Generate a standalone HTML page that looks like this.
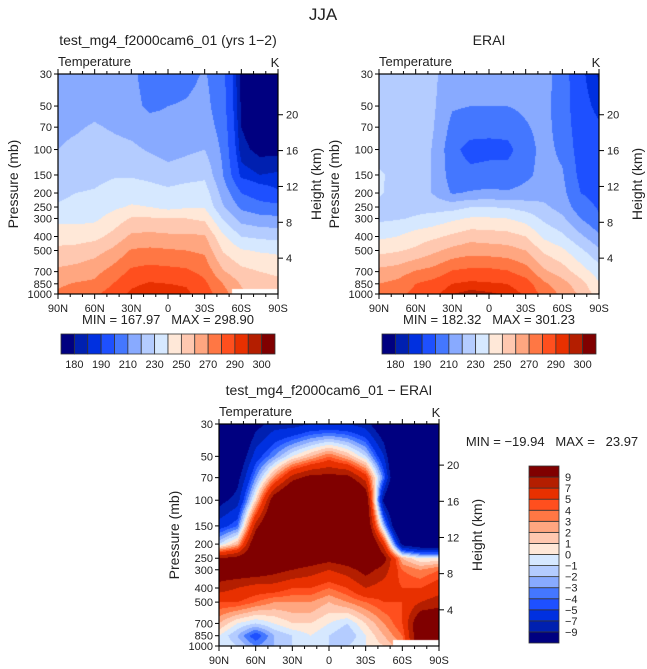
<!DOCTYPE html>
<html><head><meta charset="utf-8">
<style>
html,body{margin:0;padding:0;background:#fff;}
body{width:647px;height:669px;position:relative;overflow:hidden;font-family:"Liberation Sans",sans-serif;}
canvas{position:absolute;}
svg{position:absolute;left:0;top:0;}
svg text{font-family:"Liberation Sans",sans-serif;fill:#222;white-space:pre;}
</style></head>
<body>
<canvas id="cv1" width="220" height="220" style="left:58px;top:74px"></canvas>
<canvas id="cv2" width="220" height="220" style="left:379px;top:74px"></canvas>
<canvas id="cv3" width="220" height="222" style="left:219px;top:424px"></canvas>
<svg id="svg" width="647" height="669"></svg>
<script>
// ---- data ----
const lats = [90,75,60,45,30,15,0,-15,-30,-45,-60,-75,-90];
const pressures = [30,50,70,100,150,200,250,300,400,500,700,850,1000];
const pressureTickLabels = ["30","50","70","100","150","200","250","300","400","500","700","850","1000"];
const latTickValues = [90,60,30,0,-30,-60,-90];
const latTickLabels = ["90N","60N","30N","0","30S","60S","90S"];
const heightTicks = [20,16,12,8,4];
const tempLevels = [180,185,190,200,210,220,230,240,250,260,270,280,290,295,300];
const tempLevelLabels = ["180","","190","","210","","230","","250","","270","","290","","300"];
const diffLevels = [-9,-7,-5,-4,-3,-2,-1,0,1,2,3,4,5,7,9];
const diffLevelLabels = ["−9","−7","−5","−4","−3","−2","−1","0","1","2","3","4","5","7","9"];
const palette = ["#000080","#0020b0","#0030e0","#1e50ff","#4477ff","#88aaff","#b4ccff","#d6e8ff","#ffe8d8","#ffc8b0","#ffa680","#ff7744","#ff4f1e","#e83000","#b41e00","#800000"];
// model temperature, rows = pressures, cols = lats
const modelT = [
 [215,215,215,214,212,206,204,207,211,203,178,172,170],
 [216,216,217,215,213,208,210,211,213,204,179,173,172],
 [218,219,221,219,217,214,213,214,215,206,180,175,175],
 [220,222,224,223,222,219,216,218,220,208,182,178,178],
 [225,226,227,229,229,227,224,226,228,210,188,185,186],
 [228,230,231,234,236,235,233,235,235,216,200,195,191],
 [231,233,234,238,241,240,237,239,239,221,208,204,203],
 [237,237,238,244,251,251,250,250,248,229,216,213,212],
 [246,246,247,253,262,263,262,262,261,242,230,228,227],
 [252,253,256,262,271,272,271,270,268,249,241,239,238],
 [262,264,267,274,282,284,283,282,277,261,253,250,248],
 [268,271,272,280,288,291,290,289,282,270,259,255,253],
 [272,276,278,285,292,295,294,292,285,274,262,257,255]];
// ERA-Interim temperature
const eraiT = [
 [223,223,225,222,213,212,213,213,214,214,205,192,184],
 [224,224,225,221,211,210,210,210,212,213,205,193,188],
 [225,225,226,220,207,205,203,204,209,213,206,194,191],
 [227,226,226,219,203,196,197,197,206,213,208,195,193],
 [231,228,226,219,205,203,204,204,208,213,211,197,195],
 [231,227,225,219,209,211,212,211,213,216,213,200,197],
 [228,227,227,226,226,230,230,229,226,222,216,204,199],
 [228,229,231,234,238,241,241,240,236,228,222,210,201],
 [238,240,245,248,252,256,255,254,250,238,232,222,212],
 [247,249,252,258,263,266,265,264,260,248,242,232,222],
 [263,265,271,274,281,283,283,281,275,262,255,245,235],
 [270,273,280,284,290,292,291,290,285,272,264,254,241],
 [273,277,283,288,295,297,296,294,289,276,268,258,245]];
// model minus ERAI
const diffT = [
 [-16,-14,-10,-8,-8,-7,-7,-7,-8,-12,-18,-18,-18],
 [-15,-12,-6,-3,0,2,4,2,-1,-7,-18,-18,-18],
 [-14,-10,-3,3,8,10,10,10,6,-4,-18,-18,-18],
 [-10,-8,1,11,15,18,19,18,12,-10,-18,-18,-18],
 [-6,-4,8,14,19,20,20,19,13,-2,-17,-17,-16],
 [-1,2,12,16,18,19,18,18,15,6,-10,-12,-12],
 [9,10,12,13,12,11,10,11,14,10,2,0,0],
 [11,11,11,10,9,8,7,8,10,8,4,3,4],
 [8,7,6,6,5,5,4,5,7,6,5,5,6],
 [5,5,4,3,3,3,2,3,4,5,5,7,8],
 [2,0,-1,0,1,1,0,-1,1,3,5,12,12],
 [0,-2,-5,-2,-1,0,-1,-2,0,2,4,12,12],
 [0,-1,-3,-2,-1,0,-1,-1,0,1,3,12,12]];
const panelTitles = ["test_mg4_f2000cam6_01 (yrs 1−2)","ERAI","test_mg4_f2000cam6_01 − ERAI"];
const minMaxText = ["MIN = 167.97   MAX = 298.90","MIN = 182.32   MAX = 301.23","MIN = −19.94   MAX =   23.97"];

// ---- helpers ----
const NS="http://www.w3.org/2000/svg";
const svg=document.getElementById('svg');
const LP0=Math.log(30), LP1=Math.log(1000);
function yOfP(p,top,h){return top+(Math.log(p)-LP0)/(LP1-LP0)*h;}
function xOfLat(lat,left,w){return left+(90-lat)/180*w;}
function mk(tag,attrs,parent){const e=document.createElementNS(NS,tag);for(const k in attrs)e.setAttribute(k,attrs[k]);(parent||svg).appendChild(e);return e;}
function txt(s,x,y,size,anchor,parent){const t=mk('text',{x:x,y:y,'font-size':size,'text-anchor':anchor||'start'},parent);t.textContent=s;return t;}
function sample(T,lat,p){
  let fi=(90-lat)/15; fi=Math.max(0,Math.min(lats.length-1.0001,fi));
  const i=Math.floor(fi), a=fi-i;
  const lp=Math.log(p); let k=0;
  while(k<pressures.length-2 && lp>Math.log(pressures[k+1]))k++;
  let b=(lp-Math.log(pressures[k]))/(Math.log(pressures[k+1])-Math.log(pressures[k]));
  b=Math.max(0,Math.min(1,b));
  const v00=T[k][i],v01=T[k][i+1],v10=T[k+1][i],v11=T[k+1][i+1];
  return (v00*(1-a)+v01*a)*(1-b)+(v10*(1-a)+v11*a)*b;
}
function colorIndex(v,levels){let c=0;for(const l of levels)if(v>=l)c++;return c;}
function hexRGB(h){return [parseInt(h.substr(1,2),16),parseInt(h.substr(3,2),16),parseInt(h.substr(5,2),16)];}
const rgbPal=palette.map(hexRGB);
function drawField(id,T,levels,missing){
  const cv=document.getElementById(id),ctx=cv.getContext('2d');
  const w=cv.width,h=cv.height,img=ctx.createImageData(w,h);
  for(let py=0;py<h;py++){
    const p=Math.exp(LP0+(py+0.5)/h*(LP1-LP0));
    for(let px=0;px<w;px++){
      const lat=90-(px+0.5)/w*180;
      const o=(py*w+px)*4;
      let c=[255,255,255];
      if(!(missing&&missing(lat,p))) c=rgbPal[colorIndex(sample(T,lat,p),levels)];
      img.data[o]=c[0];img.data[o+1]=c[1];img.data[o+2]=c[2];img.data[o+3]=255;
    }
  }
  ctx.putImageData(img,0,0);
}
function axes(left,top,w,h,idx){
  const g=mk('g',{});
  
  
  const frame=mk('rect',{x:left,y:top,width:w,height:h,fill:'none',stroke:'#000','stroke-width':1.2},g);
  
  
  for(let lat=90;lat>=-90;lat-=10){
    const x=xOfLat(lat,left,w), major=lat%30===0, L=major?5:3;
    mk('line',{x1:x,y1:top,x2:x,y2:top-L,stroke:'#000'},g);
    mk('line',{x1:x,y1:top+h,x2:x,y2:top+h+L,stroke:'#000'},g);
  }
  latTickValues.forEach((lat,i)=>{
    const t=txt(latTickLabels[i],xOfLat(lat,left,w),top+h+18,11,'middle',g);
    
    
  });
  pressures.forEach((p,i)=>{
    const y=yOfP(p,top,h);
    mk('line',{x1:left,y1:y,x2:left-4,y2:y,stroke:'#000'},g);
    const t=txt(pressureTickLabels[i],left-6,y+4,11,'end',g);
    
    
  });
  heightTicks.forEach(z=>{
    const y=yOfP(1000*Math.exp(-z/7),top,h);
    mk('line',{x1:left+w,y1:y,x2:left+w+5,y2:y,stroke:'#000'},g);
    const t=txt(String(z),left+w+8,y+4,11,'start',g);
    
    
  });
  const yt=mk('text',{x:0,y:0,'font-size':14,'text-anchor':'middle',transform:`translate(${left-40},${top+h/2}) rotate(-90)`,fill:'#555'},g);
  yt.textContent='Pressure (mb)';
  
  
  const ht=mk('text',{x:0,y:0,'font-size':14,'text-anchor':'middle',transform:`translate(${left+w+43},${top+h/2}) rotate(-90)`,fill:'#555'},g);
  ht.textContent='Height (km)';
  
  
  const vt=txt('Temperature',left,top-8,13,'start',g);
  
  
  const ut=txt('K',left+w-3,top-7,13,'middle',g);
  
  
  const tt=txt(panelTitles[idx],left+w/2,top-29,14,'middle',g);
  
  
}
function hColorbar(x,y,w,h){
  const g=mk('g',{});
  
  
  const bw=w/palette.length;
  palette.forEach((c,i)=>{
    const r=mk('rect',{x:x+i*bw,y:y,width:bw,height:h,fill:c,stroke:'#333','stroke-width':0.8},g);
    
    
  });
  tempLevelLabels.forEach((s,i)=>{
    if(!s)return;
    const t=txt(s,x+(i+1)*bw,y+h+14,11,'middle',g);
    
    
  });
}
function vColorbar(x,y,w,h){
  const g=mk('g',{});
  
  
  const bh=h/palette.length;
  palette.forEach((c,i)=>{
    const r=mk('rect',{x:x,y:y+h-(i+1)*bh,width:w,height:bh,fill:c,stroke:'#333','stroke-width':0.8},g);
    
    
  });
  diffLevelLabels.forEach((s,i)=>{
    const t=txt(s,x+w+6,y+h-(i+1)*bh+4,11,'start',g);
    
    
  });
}

// ---- draw ----
const missingModel=(lat,p)=>lat<-52&&p>920;
const missingDiff=(lat,p)=>lat<-52&&p>905;
drawField('cv1',modelT,tempLevels,missingModel);
drawField('cv2',eraiT,tempLevels,null);
drawField('cv3',diffT,diffLevels,missingDiff);

const main=txt('JJA',323,20,17,'middle');



axes(58,74,220,220,0);
axes(379,74,220,220,1);
axes(219,424,220,222,2);

[[168,324,0],[489,324,1]].forEach(a=>{
  const t=txt(minMaxText[a[2]],a[0],a[1],13,'middle');
  
  
});
const mm=txt(minMaxText[2],552,446,13,'middle');



hColorbar(61,334,214,20);
hColorbar(382,334,214,20);
vColorbar(529,466,30,177);
</script>
</body></html>
